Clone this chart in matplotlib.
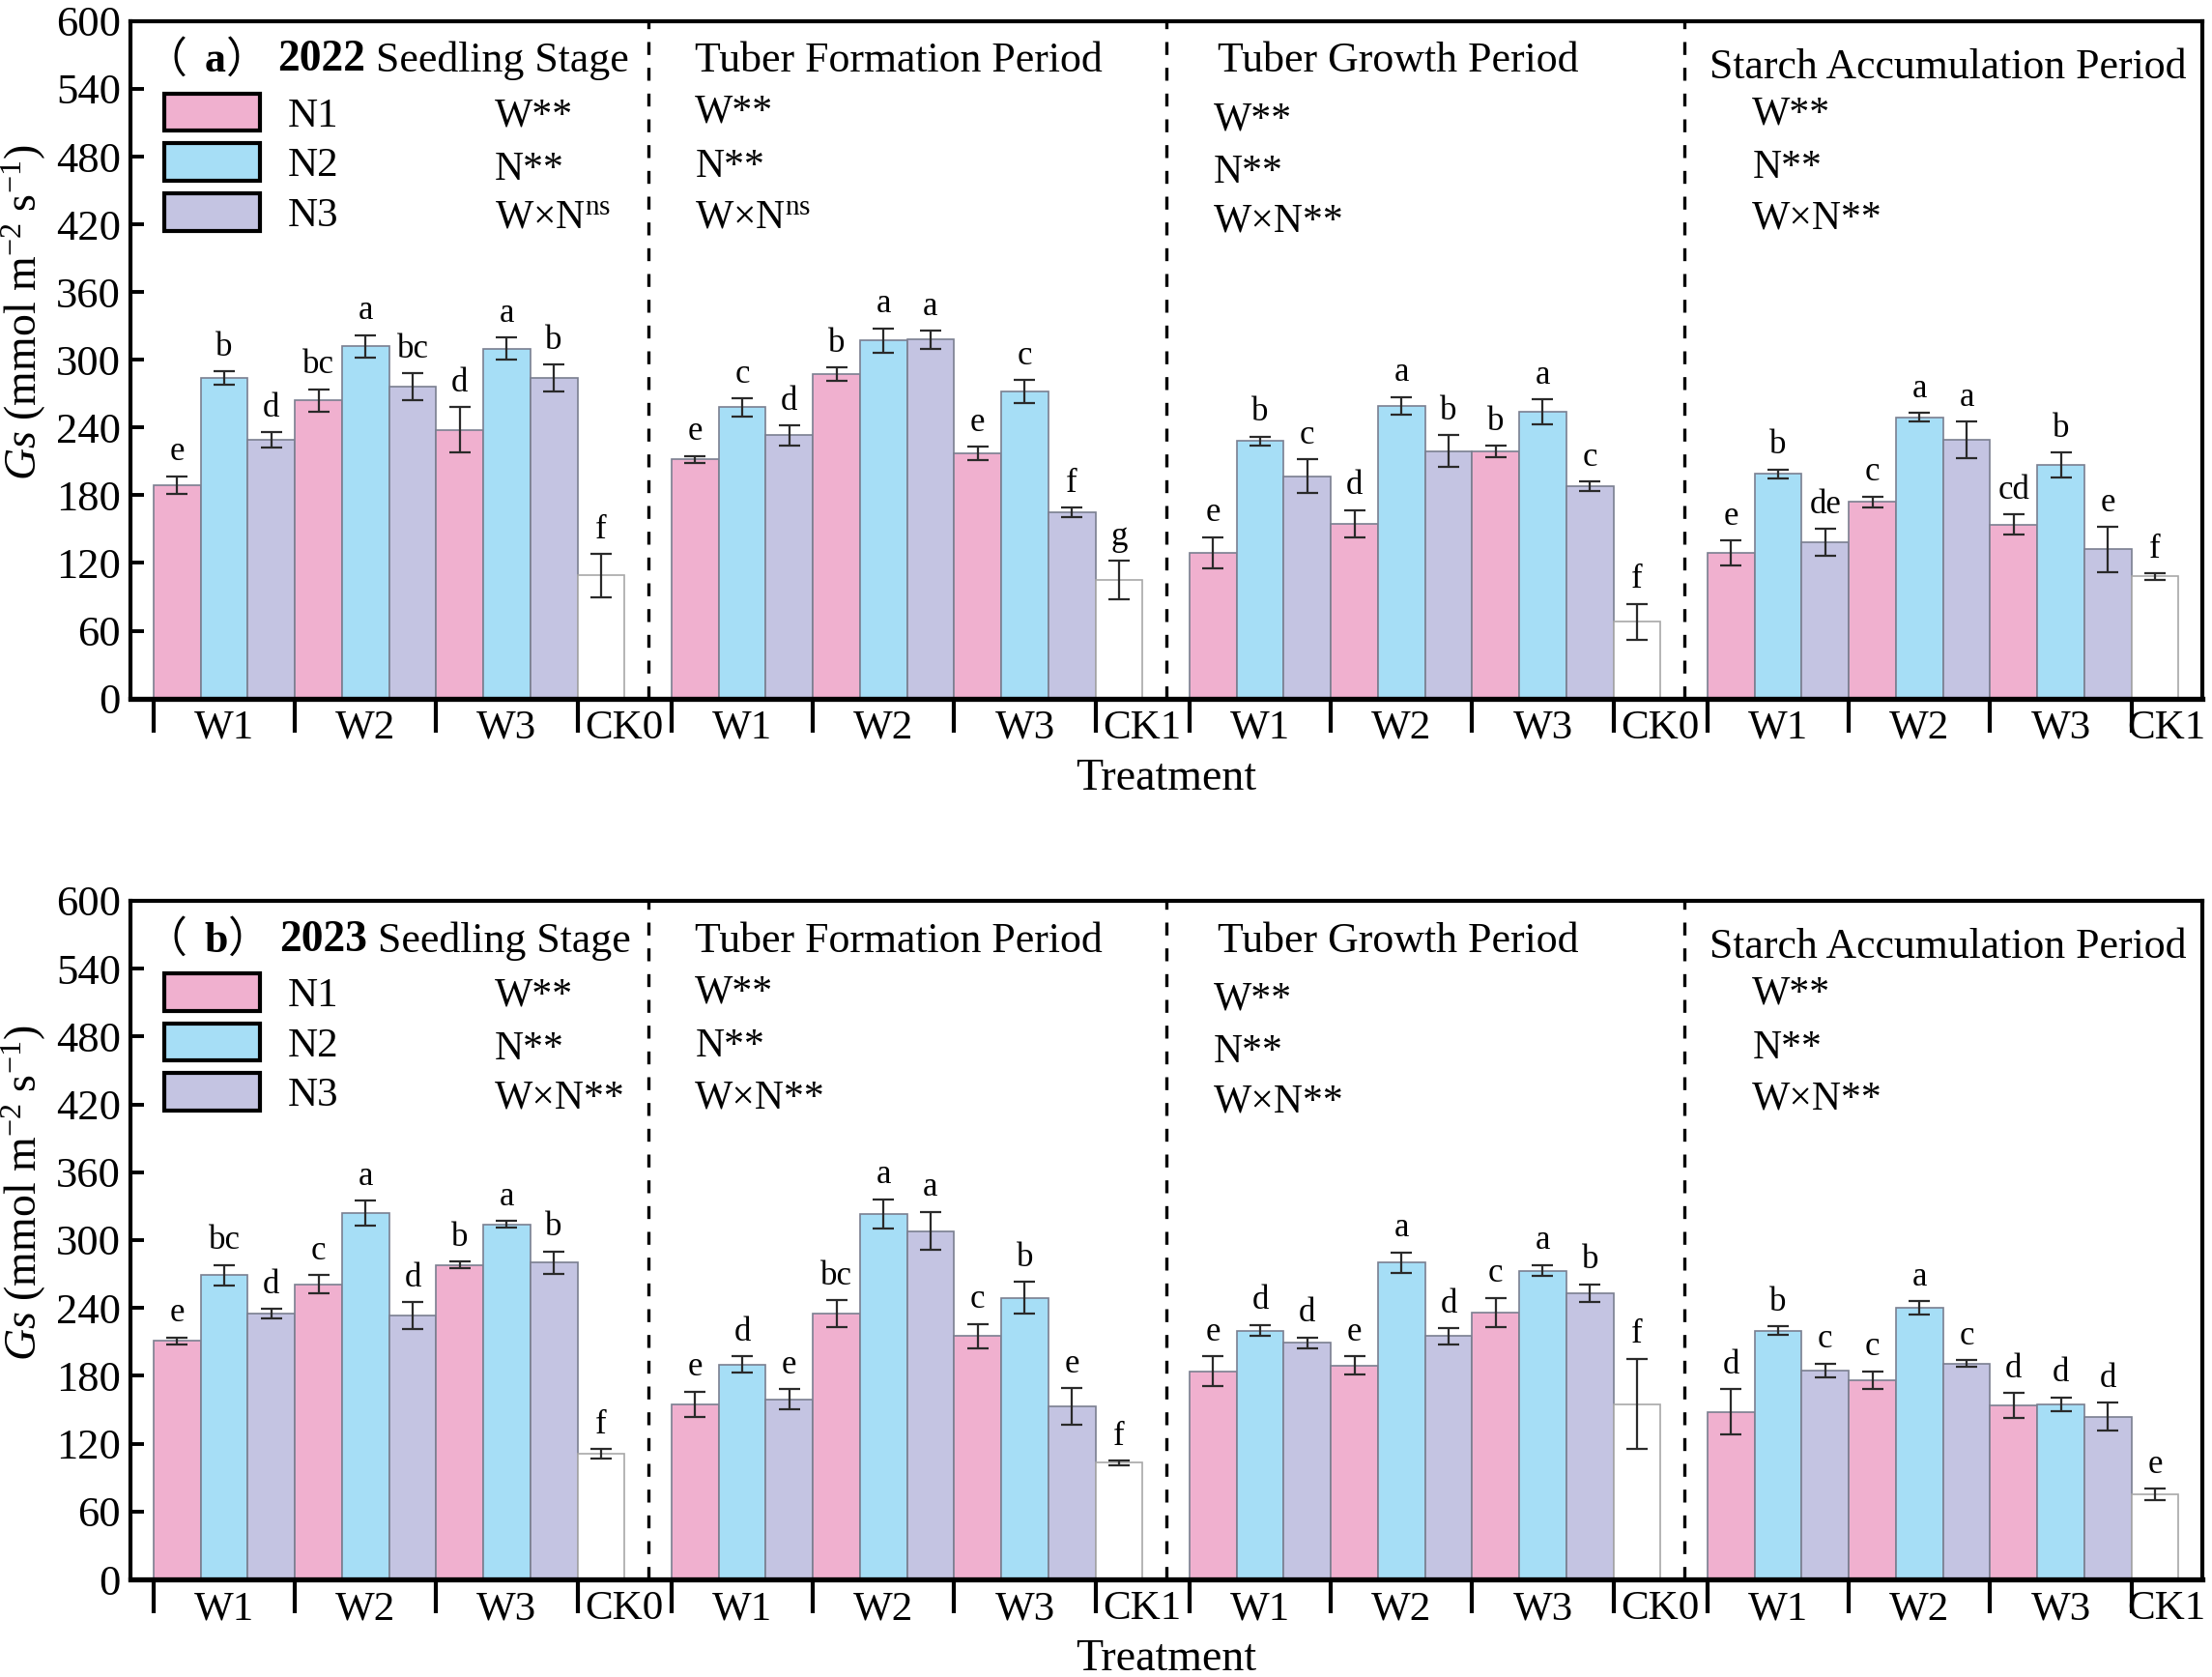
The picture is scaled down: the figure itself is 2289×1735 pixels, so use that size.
import numpy as np
import matplotlib
matplotlib.use("Agg")
import matplotlib.pyplot as plt
from matplotlib.patches import Patch

plt.rcParams['font.family'] = ['Liberation Serif', 'Noto Sans CJK SC']
plt.rcParams['mathtext.fontset'] = 'custom'
plt.rcParams['mathtext.rm'] = 'Liberation Serif'
plt.rcParams['mathtext.it'] = 'Liberation Serif:italic'
plt.rcParams['mathtext.bf'] = 'Liberation Serif:bold'

stages = ["Seedling Stage", "Tuber Formation Period", "Tuber Growth Period",
          "Starch Accumulation Period"]
ck_names = ["CK0", "CK1", "CK0", "CK1"]
water = ["W1", "W2", "W3"]
nitrogen = ["N1", "N2", "N3"]

# each row: W1N1 W1N2 W1N3 W2N1 W2N2 W2N3 W3N1 W3N2 W3N3 CK
gs_2022 = [
    [189, 284, 229, 264, 312, 276, 238, 310, 284, 109],
    [212, 258, 233, 287, 317, 318, 217, 272, 165, 105],
    [129, 228, 197, 155, 259, 219, 219, 254, 188, 68],
    [129, 199, 138, 174, 249, 229, 154, 207, 132, 108],
]
err_2022 = [
    [8, 6, 7, 10, 10, 12, 20, 10, 12, 19],
    [3, 8, 9, 6, 11, 8, 6, 10, 4, 17],
    [14, 4, 15, 12, 8, 14, 5, 11, 4, 16],
    [11, 4, 12, 5, 4, 16, 9, 11, 20, 3],
]
let_2022 = [
    ["e", "b", "d", "bc", "a", "bc", "d", "a", "b", "f"],
    ["e", "c", "d", "b", "a", "a", "e", "c", "f", "g"],
    ["e", "b", "c", "d", "a", "b", "b", "a", "c", "f"],
    ["e", "b", "de", "c", "a", "a", "cd", "b", "e", "f"],
]
sig_2022 = [
    ["W**", "N**", r"W×N$^{\mathrm{ns}}$"],
    ["W**", "N**", r"W×N$^{\mathrm{ns}}$"],
    ["W**", "N**", "W×N**"],
    ["W**", "N**", "W×N**"],
]

gs_2023 = [
    [211, 269, 235, 261, 324, 233, 278, 314, 280, 111],
    [155, 190, 159, 235, 323, 308, 215, 249, 153, 103],
    [184, 220, 209, 189, 280, 215, 236, 273, 253, 155],
    [148, 220, 185, 176, 240, 191, 154, 155, 144, 75],
]
err_2023 = [
    [3, 9, 4, 8, 11, 12, 3, 3, 10, 4],
    [11, 7, 9, 12, 13, 17, 11, 14, 16, 2],
    [13, 5, 5, 8, 9, 7, 13, 5, 8, 40],
    [20, 4, 6, 8, 6, 3, 11, 6, 12, 5],
]
let_2023 = [
    ["e", "bc", "d", "c", "a", "d", "b", "a", "b", "f"],
    ["e", "d", "e", "bc", "a", "a", "c", "b", "e", "f"],
    ["e", "d", "d", "e", "a", "d", "c", "a", "b", "f"],
    ["d", "b", "c", "c", "a", "c", "d", "d", "d", "e"],
]
sig_2023 = [["W**", "N**", "W×N**"]] * 4

colors = ["#F0B0CF", "#A6DEF6", "#C4C4E2"]
bar_colors = colors * 3 + ["white"]
bar_edges = ["#7A7F90"] * 9 + ["#A8A8A8"]

title_x = [-0.69, 11.0, 22.1, 32.55]
title_y = [0.925, 0.925, 0.925, 0.916]
sig_x = [6.75, 11.0, 22.0, 33.45]
sig_y = [[0.845, 0.766, 0.695], [0.850, 0.770, 0.695],
         [0.839, 0.762, 0.689], [0.848, 0.768, 0.693]]


def draw_panel(ax, means, errs, letters, sigs, tag, year):
    for s in range(4):
        x = s * 11 + np.arange(10)
        ax.bar(x, means[s], width=1.0, color=bar_colors, edgecolor=bar_edges,
               linewidth=0.6, zorder=2)
        ax.errorbar(x, means[s], yerr=errs[s], fmt='none', ecolor='#2a2a2a',
                    elinewidth=0.8, capsize=4, capthick=0.8, zorder=3)
        for xi, m, e, lab in zip(x, means[s], errs[s], letters[s]):
            ax.annotate(lab, (xi, m + e), xytext=(0, 3), textcoords='offset points',
                        ha='center', va='bottom', fontsize=12.5)
        if s < 3:
            ax.axvline(s * 11 + 10, color='black', lw=1.2, ls=(0, (4, 4)), zorder=1)
        # significance text
        for k in range(3):
            ax.text(sig_x[s], sig_y[s][k], sigs[s][k], transform=ax.get_xaxis_transform(),
                    ha='left', va='baseline', fontsize=15)
        # x labels
        for g in range(3):
            ax.text(s * 11 + 1 + 3 * g, -0.044, water[g], transform=ax.get_xaxis_transform(),
                    ha='center', va='center', fontsize=15.5)
        ck_x = (s * 11 + 8.5 + min(s * 11 + 10.5, 43)) / 2
        ax.text(ck_x, -0.044, ck_names[s], transform=ax.get_xaxis_transform(),
                ha='center', va='center', fontsize=15.5)
        if s > 0:
            ax.text(title_x[s], title_y[s], stages[s], transform=ax.get_xaxis_transform(),
                    ha='left', va='baseline', fontsize=15.8)

    # panel title pieces: （a）2022 Seedling Stage
    t = ax.text(title_x[0], title_y[0], "（", transform=ax.get_xaxis_transform(),
                ha='left', va='baseline', fontsize=15.8)
    for piece, fw, fs, dx in [(tag, 'bold', 15.8, 6.5), ("）", 'normal', 15.8, 0),
                              (year, 'bold', 16.4, 3.5),
                              (" " + stages[0], 'normal', 15.8, 0)]:
        t = ax.annotate(piece, xy=(1, 0), xycoords=t, xytext=(dx, 0),
                        textcoords='offset points', ha='left', va='bottom',
                        fontsize=fs, fontweight=fw)

    handles = [Patch(facecolor=c, edgecolor='black', linewidth=1.5) for c in colors]
    ax.legend(handles, nitrogen, loc='upper left', bbox_to_anchor=(0.0164, 0.893),
              frameon=False, fontsize=15.5, handlelength=2.3, handleheight=1.0,
              handletextpad=0.67, labelspacing=0.2, borderpad=0, borderaxespad=0)

    ax.set_xlim(-1, 43)
    ax.set_ylim(0, 600)
    ax.set_yticks(np.arange(0, 601, 60))
    ax.tick_params(axis='y', direction='in', length=5, width=1.4, labelsize=16, pad=3.5)
    bounds = []
    for s in range(4):
        bounds += [s * 11 - 0.5, s * 11 + 2.5, s * 11 + 5.5, s * 11 + 8.5]
    ax.set_xticks(bounds)
    ax.set_xticklabels([])
    ax.tick_params(axis='x', direction='out', length=12.5, width=1.5)
    for sp in ax.spines.values():
        sp.set_linewidth(1.5)
    ax.spines['bottom'].set_linewidth(1.9)
    ax.text(0.5, -0.134, "Treatment", transform=ax.transAxes, ha='center',
            va='baseline', fontsize=16.5)
    ax.text(-0.051, 0.57, r"$Gs$ (mmol m$^{-2}$ s$^{-1}$)", transform=ax.transAxes,
            rotation=90, ha='center', va='center', fontsize=16.5)


fig = plt.figure(figsize=(11.445, 8.675), dpi=200)
ax1 = fig.add_axes([0.0588, 0.5835, 0.9367, 0.4039])
ax2 = fig.add_axes([0.0588, 0.0582, 0.9367, 0.4047])
draw_panel(ax1, gs_2022, err_2022, let_2022, sig_2022, "a", "2022")
draw_panel(ax2, gs_2023, err_2023, let_2023, sig_2023, "b", "2023")
fig.savefig("out.png", dpi=200)
